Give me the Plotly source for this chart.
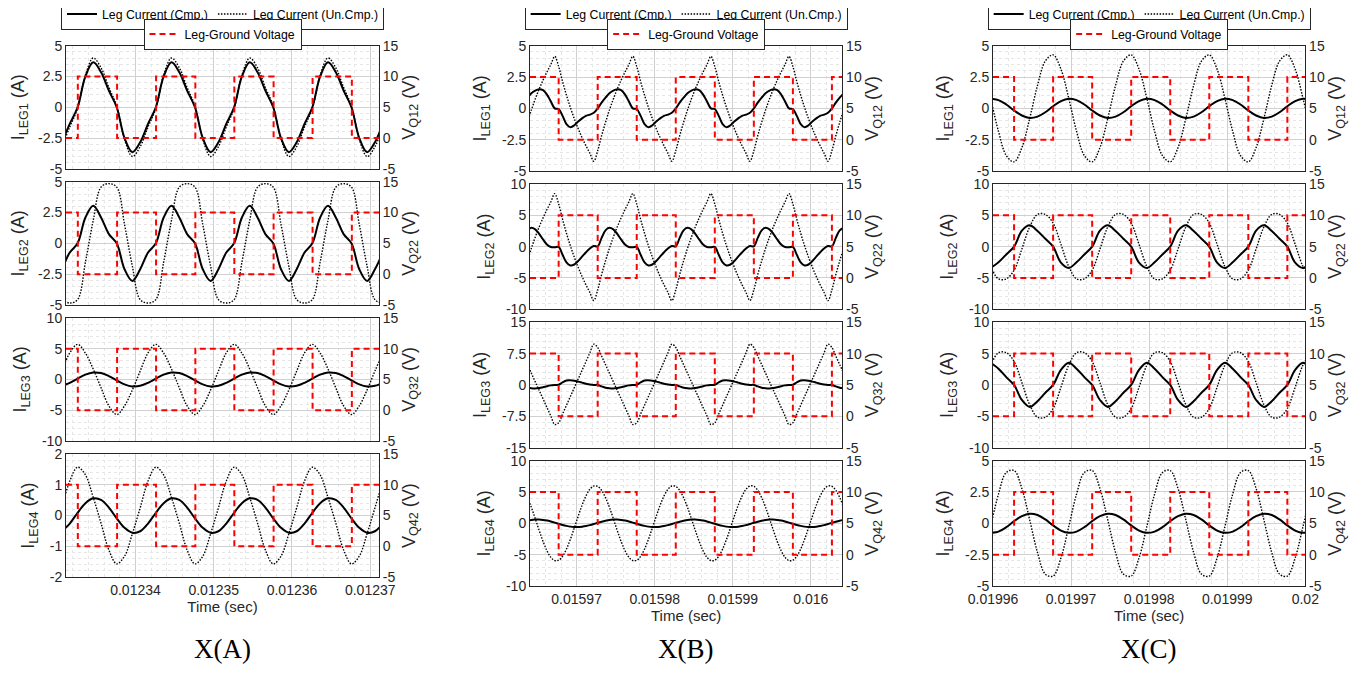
import plotly.graph_objects as go

# ---------------- DATA ----------------
# time bases (s) and sample offsets (microseconds)
A_T0 = 0.01233
B_T0 = 0.01596
C_T0 = 0.01996

A_t_us = [0.6, 1.6, 2.6, 3.6, 4.6, 5.6, 6.6, 7.6, 8.6, 9.6, 10.6, 11.6, 12.6, 13.6, 14.6, 15.6, 16.6, 17.6, 18.6, 19.6,
          20.6, 21.6, 22.6, 23.6, 24.6, 25.6, 26.6, 27.6, 28.6, 29.6, 30.6, 31.6, 32.6, 33.6, 34.6, 35.6, 36.6, 37.6, 38.6,
          39.6, 40.6, 41.6]
B_t_us = [3.7, 4.2, 4.7, 5.2, 5.7, 6.2, 6.7, 7.2, 7.7, 8.2, 8.7, 9.2, 9.7, 10.2, 10.7, 11.2, 11.7, 12.2, 12.7, 13.2,
          13.7, 14.2, 14.7, 15.2, 15.7, 16.2, 16.7, 17.2, 17.7, 18.2, 18.7, 19.2, 19.7, 20.2, 20.7, 21.2, 21.7, 22.2,
          22.7, 23.2, 23.7, 24.2, 24.7, 25.2, 25.7, 26.2, 26.7, 27.2, 27.7, 28.2, 28.7, 29.2, 29.7, 30.2, 30.7, 31.2,
          31.7, 32.2, 32.7, 33.2, 33.7, 34.2, 34.7, 35.2, 35.7, 36.2, 36.7, 37.2, 37.7, 38.2, 38.7, 39.2, 39.7, 40.2,
          40.7, 41.2, 41.7, 42.2, 42.7, 43.2, 43.7, 44.2]
C_t_us = [-0.3, 0.7, 1.7, 2.7, 3.7, 4.7, 5.7, 6.7, 7.7, 8.7, 9.7, 10.7, 11.7, 12.7, 13.7, 14.7, 15.7, 16.7, 17.7, 18.7,
          19.7, 20.7, 21.7, 22.7, 23.7, 24.7, 25.7, 26.7, 27.7, 28.7, 29.7, 30.7, 31.7, 32.7, 33.7, 34.7, 35.7, 36.7,
          37.7, 38.7, 39.7, 40.7]

# ---- column A currents (A) ----
A1_cmp = [-2.85, -1.35,
          0, 2.5, 3.65, 2.85, 1.35, 0, -2.5, -3.65, -2.85, -1.35,
          0, 2.5, 3.65, 2.85, 1.35, 0, -2.5, -3.65, -2.85, -1.35,
          0, 2.5, 3.65, 2.85, 1.35, 0, -2.5, -3.65, -2.85, -1.35,
          0, 2.5, 3.65, 2.85, 1.35, 0, -2.5, -3.65, -2.85, -1.35]
A1_unc = [-3.2, -1.6,
          -0.1, 2.6, 4.0, 3.2, 1.6, 0.1, -2.6, -4.0, -3.2, -1.6,
          -0.1, 2.6, 4.0, 3.2, 1.6, 0.1, -2.6, -4.0, -3.2, -1.6,
          -0.1, 2.6, 4.0, 3.2, 1.6, 0.1, -2.6, -4.0, -3.2, -1.6,
          -0.1, 2.6, 4.0, 3.2, 1.6, 0.1, -2.6, -4.0, -3.2, -1.6]
A2_cmp = [-2.1, -0.75,
          0, 2.1, 3.05, 2.1, 0.75, 0, -2.1, -3.05, -2.1, -0.75,
          0, 2.1, 3.05, 2.1, 0.75, 0, -2.1, -3.05, -2.1, -0.75,
          0, 2.1, 3.05, 2.1, 0.75, 0, -2.1, -3.05, -2.1, -0.75,
          0, 2.1, 3.05, 2.1, 0.75, 0, -2.1, -3.05, -2.1, -0.75]
A2_unc = [-4.57, -4.85,
          -4.57, -1.53, 1.86, 4.57, 4.85, 4.57, 1.53, -1.86, -4.57, -4.85,
          -4.57, -1.53, 1.86, 4.57, 4.85, 4.57, 1.53, -1.86, -4.57, -4.85,
          -4.57, -1.53, 1.86, 4.57, 4.85, 4.57, 1.53, -1.86, -4.57, -4.85,
          -4.57, -1.53, 1.86, 4.57, 4.85, 4.57, 1.53, -1.86, -4.57, -4.85]
A3_cmp = [-1.04, -0.55,
          0.14, 0.79, 1.13, 1.04, 0.55, -0.14, -0.79, -1.13, -1.04, -0.55,
          0.14, 0.79, 1.13, 1.04, 0.55, -0.14, -0.79, -1.13, -1.04, -0.55,
          0.14, 0.79, 1.13, 1.04, 0.55, -0.14, -0.79, -1.13, -1.04, -0.55,
          0.14, 0.79, 1.13, 1.04, 0.55, -0.14, -0.79, -1.13, -1.04, -0.55]
A3_unc = [1.36, 4.3,
          5.7, 4.28, 1.7, -1.36, -4.3, -5.7, -4.28, -1.7, 1.36, 4.3,
          5.7, 4.28, 1.7, -1.36, -4.3, -5.7, -4.28, -1.7, 1.36, 4.3,
          5.7, 4.28, 1.7, -1.36, -4.3, -5.7, -4.28, -1.7, 1.36, 4.3,
          5.7, 4.28, 1.7, -1.36, -4.3, -5.7, -4.28, -1.7, 1.36, 4.3]
A4_cmp = [-0.51, -0.26,
          0.09, 0.40, 0.56, 0.51, 0.26, -0.09, -0.40, -0.56, -0.51, -0.26,
          0.09, 0.40, 0.56, 0.51, 0.26, -0.09, -0.40, -0.56, -0.51, -0.26,
          0.09, 0.40, 0.56, 0.51, 0.26, -0.09, -0.40, -0.56, -0.51, -0.26,
          0.09, 0.40, 0.56, 0.51, 0.26, -0.09, -0.40, -0.56, -0.51, -0.26]
A4_unc = [0.25, 1.12,
          1.57, 1.32, 0.59, -0.25, -1.12, -1.57, -1.32, -0.59, 0.25, 1.12,
          1.57, 1.32, 0.59, -0.25, -1.12, -1.57, -1.32, -0.59, 0.25, 1.12,
          1.57, 1.32, 0.59, -0.25, -1.12, -1.57, -1.32, -0.59, 0.25, 1.12,
          1.57, 1.32, 0.59, -0.25, -1.12, -1.57, -1.32, -0.59, 0.25, 1.12]

# ---- column B currents (A) ----
B1_cmp = [0.85, 1.2, 1.42, 1.52, 1.45, 1.1, 0.55, 0.0, -0.05, -0.6, -1.25, -1.5, -1.35, -1.05, -0.8, -0.6, -0.5, -0.35,
          0.0, 0.45, 0.85, 1.2, 1.42, 1.52, 1.45, 1.1, 0.55, 0.0, -0.05, -0.6, -1.25, -1.5, -1.35, -1.05, -0.8, -0.6, -0.5, -0.35,
          0.0, 0.45, 0.85, 1.2, 1.42, 1.52, 1.45, 1.1, 0.55, 0.0, -0.05, -0.6, -1.25, -1.5, -1.35, -1.05, -0.8, -0.6, -0.5, -0.35,
          0.0, 0.45, 0.85, 1.2, 1.42, 1.52, 1.45, 1.1, 0.55, 0.0, -0.05, -0.6, -1.25, -1.5, -1.35, -1.05, -0.8, -0.6, -0.5, -0.35,
          0.0, 0.45, 0.85, 1.2]
B1_unc = [-1.12, -0.14, 0.74, 1.54, 2.25, 2.90, 3.50, 4.15, 3.34, 2.14, 1.05, 0.07, -0.82, -1.62, -2.34, -2.99, -3.59, -4.22,
          -3.38, -2.19, -1.12, -0.14, 0.74, 1.54, 2.25, 2.90, 3.50, 4.15, 3.34, 2.14, 1.05, 0.07, -0.82, -1.62, -2.34, -2.99, -3.59, -4.22,
          -3.38, -2.19, -1.12, -0.14, 0.74, 1.54, 2.25, 2.90, 3.50, 4.15, 3.34, 2.14, 1.05, 0.07, -0.82, -1.62, -2.34, -2.99, -3.59, -4.22,
          -3.38, -2.19, -1.12, -0.14, 0.74, 1.54, 2.25, 2.90, 3.50, 4.15, 3.34, 2.14, 1.05, 0.07, -0.82, -1.62, -2.34, -2.99, -3.59, -4.22,
          -3.38, -2.19, -1.12, -0.14]
B2_cmp = [2.6, 3.0, 2.75, 2.05, 1.15, 0.35, -0.05, -0.1, -0.05, -1.3, -2.5, -3.0, -2.85, -2.3, -1.6, -0.9, -0.3, 0.1,
          0.05, 1.4, 2.6, 3.0, 2.75, 2.05, 1.15, 0.35, -0.05, -0.1, -0.05, -1.3, -2.5, -3.0, -2.85, -2.3, -1.6, -0.9, -0.3, 0.1,
          0.05, 1.4, 2.6, 3.0, 2.75, 2.05, 1.15, 0.35, -0.05, -0.1, -0.05, -1.3, -2.5, -3.0, -2.85, -2.3, -1.6, -0.9, -0.3, 0.1,
          0.05, 1.4, 2.6, 3.0, 2.75, 2.05, 1.15, 0.35, -0.05, -0.1, -0.05, -1.3, -2.5, -3.0, -2.85, -2.3, -1.6, -0.9, -0.3, 0.1,
          0.05, 1.4, 2.6, 3.0]
B2_unc = [-2.28, -0.29, 1.51, 3.14, 4.59, 5.92, 7.14, 8.47, 6.81, 4.37, 2.14, 0.14, -1.67, -3.30, -4.77, -6.10, -7.32, -8.6,
          -6.9, -4.47, -2.28, -0.29, 1.51, 3.14, 4.59, 5.92, 7.14, 8.47, 6.81, 4.37, 2.14, 0.14, -1.67, -3.30, -4.77, -6.10, -7.32, -8.6,
          -6.9, -4.47, -2.28, -0.29, 1.51, 3.14, 4.59, 5.92, 7.14, 8.47, 6.81, 4.37, 2.14, 0.14, -1.67, -3.30, -4.77, -6.10, -7.32, -8.6,
          -6.9, -4.47, -2.28, -0.29, 1.51, 3.14, 4.59, 5.92, 7.14, 8.47, 6.81, 4.37, 2.14, 0.14, -1.67, -3.30, -4.77, -6.10, -7.32, -8.6,
          -6.9, -4.47, -2.28, -0.29]
B3_cmp = [-0.65, -0.8, -0.85, -0.75, -0.55, -0.3, -0.1, 0.0, 0.05, 0.6, 1.05, 1.1, 1.0, 0.8, 0.55, 0.3, 0.1, 0.0,
          0.0, -0.35, -0.65, -0.8, -0.85, -0.75, -0.55, -0.3, -0.1, 0.0, 0.05, 0.6, 1.05, 1.1, 1.0, 0.8, 0.55, 0.3, 0.1, 0.0,
          0.0, -0.35, -0.65, -0.8, -0.85, -0.75, -0.55, -0.3, -0.1, 0.0, 0.05, 0.6, 1.05, 1.1, 1.0, 0.8, 0.55, 0.3, 0.1, 0.0,
          0.0, -0.35, -0.65, -0.8, -0.85, -0.75, -0.55, -0.3, -0.1, 0.0, 0.05, 0.6, 1.05, 1.1, 1.0, 0.8, 0.55, 0.3, 0.1, 0.0,
          0.0, -0.35, -0.65, -0.8]
B3_unc = [4.87, 2.82, 0.77, -1.28, -3.33, -5.38, -7.43, -9.48, -9.05, -6.95, -4.86, -2.77, -0.68, 1.41, 3.50, 5.59, 7.68, 9.77,
          8.97, 6.92, 4.87, 2.82, 0.77, -1.28, -3.33, -5.38, -7.43, -9.48, -9.05, -6.95, -4.86, -2.77, -0.68, 1.41, 3.50, 5.59, 7.68, 9.77,
          8.97, 6.92, 4.87, 2.82, 0.77, -1.28, -3.33, -5.38, -7.43, -9.48, -9.05, -6.95, -4.86, -2.77, -0.68, 1.41, 3.50, 5.59, 7.68, 9.77,
          8.97, 6.92, 4.87, 2.82, 0.77, -1.28, -3.33, -5.38, -7.43, -9.48, -9.05, -6.95, -4.86, -2.77, -0.68, 1.41, 3.50, 5.59, 7.68, 9.77,
          8.97, 6.92, 4.87, 2.82]
B4_cmp = [0.41, 0.53, 0.59, 0.60, 0.54, 0.44, 0.29, 0.11, -0.08, -0.26, -0.41, -0.53, -0.59, -0.60, -0.54, -0.44, -0.29, -0.11,
          0.08, 0.26, 0.41, 0.53, 0.59, 0.60, 0.54, 0.44, 0.29, 0.11, -0.08, -0.26, -0.41, -0.53, -0.59, -0.60, -0.54, -0.44, -0.29, -0.11,
          0.08, 0.26, 0.41, 0.53, 0.59, 0.60, 0.54, 0.44, 0.29, 0.11, -0.08, -0.26, -0.41, -0.53, -0.59, -0.60, -0.54, -0.44, -0.29, -0.11,
          0.08, 0.26, 0.41, 0.53, 0.59, 0.60, 0.54, 0.44, 0.29, 0.11, -0.08, -0.26, -0.41, -0.53, -0.59, -0.60, -0.54, -0.44, -0.29, -0.11,
          0.08, 0.26, 0.41, 0.53]
B4_unc = [4.10, 2.56, 0.75, -1.12, -2.89, -4.37, -5.43, -5.95, -5.89, -5.26, -4.10, -2.56, -0.75, 1.12, 2.89, 4.37, 5.43, 5.95,
          5.89, 5.26, 4.10, 2.56, 0.75, -1.12, -2.89, -4.37, -5.43, -5.95, -5.89, -5.26, -4.10, -2.56, -0.75, 1.12, 2.89, 4.37, 5.43, 5.95,
          5.89, 5.26, 4.10, 2.56, 0.75, -1.12, -2.89, -4.37, -5.43, -5.95, -5.89, -5.26, -4.10, -2.56, -0.75, 1.12, 2.89, 4.37, 5.43, 5.95,
          5.89, 5.26, 4.10, 2.56, 0.75, -1.12, -2.89, -4.37, -5.43, -5.95, -5.89, -5.26, -4.10, -2.56, -0.75, 1.12, 2.89, 4.37, 5.43, 5.95,
          5.89, 5.26, 4.10, 2.56]

# ---- column C currents (A) ----
C1_cmp = [0.77, 0.66, 0.31,
          -0.17, -0.57, -0.77, -0.66, -0.31, 0.17, 0.58, 0.77, 0.66, 0.31,
          -0.17, -0.57, -0.77, -0.66, -0.31, 0.17, 0.58, 0.77, 0.66, 0.31,
          -0.17, -0.57, -0.77, -0.66, -0.31, 0.17, 0.58, 0.77, 0.66, 0.31,
          -0.17, -0.57, -0.77, -0.66, -0.31, 0.17, 0.58, 0.77, 0.66]
C1_unc = [0.81, -1.83, -3.77,
          -4.27, -3.13, -0.81, 1.83, 3.77, 4.27, 3.13, 0.81, -1.83, -3.77,
          -4.27, -3.13, -0.81, 1.83, 3.77, 4.27, 3.13, 0.81, -1.83, -3.77,
          -4.27, -3.13, -0.81, 1.83, 3.77, 4.27, 3.13, 0.81, -1.83, -3.77,
          -4.27, -3.13, -0.81, 1.83, 3.77, 4.27, 3.13, 0.81, -1.83]
C2_cmp = [-3.4, -2.5, -1.25,
          0, 2.55, 3.4, 2.5, 1.25, 0, -2.55, -3.4, -2.5, -1.25,
          0, 2.55, 3.4, 2.5, 1.25, 0, -2.55, -3.4, -2.5, -1.25,
          0, 2.55, 3.4, 2.5, 1.25, 0, -2.55, -3.4, -2.5, -1.25,
          0, 2.55, 3.4, 2.5, 1.25, 0, -2.55, -3.4, -2.5]
C2_unc = [-3.16, -5.15, -5.15,
          -3.76, -0.37, 3.16, 5.15, 5.15, 3.76, 0.37, -3.16, -5.15, -5.15,
          -3.76, -0.37, 3.16, 5.15, 5.15, 3.76, 0.37, -3.16, -5.15, -5.15,
          -3.76, -0.37, 3.16, 5.15, 5.15, 3.76, 0.37, -3.16, -5.15, -5.15,
          -3.76, -0.37, 3.16, 5.15, 5.15, 3.76, 0.37, -3.16, -5.15]
C3_cmp = [3.55, 2.6, 1.25,
          0, -2.4, -3.5, -2.6, -1.25, 0, 2.4, 3.55, 2.6, 1.25,
          0, -2.4, -3.5, -2.6, -1.25, 0, 2.4, 3.55, 2.6, 1.25,
          0, -2.4, -3.5, -2.6, -1.25, 0, 2.4, 3.55, 2.6, 1.25,
          0, -2.4, -3.5, -2.6, -1.25, 0, 2.4, 3.55, 2.6]
C3_unc = [3.16, 5.15, 5.15,
          3.76, 0.37, -3.16, -5.15, -5.15, -3.76, -0.37, 3.16, 5.15, 5.15,
          3.76, 0.37, -3.16, -5.15, -5.15, -3.76, -0.37, 3.16, 5.15, 5.15,
          3.76, 0.37, -3.16, -5.15, -5.15, -3.76, -0.37, 3.16, 5.15, 5.15,
          3.76, 0.37, -3.16, -5.15, -5.15, -3.76, -0.37, 3.16, 5.15]
C4_cmp = [-0.76, -0.66, -0.31,
          0.17, 0.57, 0.76, 0.66, 0.31, -0.17, -0.58, -0.76, -0.66, -0.31,
          0.17, 0.57, 0.76, 0.66, 0.31, -0.17, -0.58, -0.76, -0.66, -0.31,
          0.17, 0.57, 0.76, 0.66, 0.31, -0.17, -0.58, -0.76, -0.66, -0.31,
          0.17, 0.57, 0.76, 0.66, 0.31, -0.17, -0.58, -0.76, -0.66]
C4_unc = [-0.27, 2.33, 4.05,
          4.21, 2.77, 0.27, -2.33, -4.05, -4.21, -2.77, -0.27, 2.33, 4.05,
          4.21, 2.77, 0.27, -2.33, -4.05, -4.21, -2.77, -0.27, 2.33, 4.05,
          4.21, 2.77, 0.27, -2.33, -4.05, -4.21, -2.77, -0.27, 2.33, 4.05,
          4.21, 2.77, 0.27, -2.33, -4.05, -4.21, -2.77, -0.27, 2.33]

# ---- leg-ground voltages (V): step change times (us) and levels ----
A_v_t_us = [1.12, 2.63, 7.65, 12.63, 17.65, 22.63, 27.65, 32.63, 37.65, 41.12]
A1_v = [0, 10, 0, 10, 0, 10, 0, 10, 0, 0]
A2_v = [10, 0, 10, 0, 10, 0, 10, 0, 10, 10]
A3_v = [10, 0, 10, 0, 10, 0, 10, 0, 10, 10]
A4_v = [10, 0, 10, 0, 10, 0, 10, 0, 10, 10]
B_v_t_us = [4.03, 7.7, 12.7, 17.7, 22.7, 27.7, 32.7, 37.7, 42.7, 44.03]
B1_v = [10, 0, 10, 0, 10, 0, 10, 0, 10, 10]
B2_v = [0, 10, 0, 10, 0, 10, 0, 10, 0, 0]
B3_v = [10, 0, 10, 0, 10, 0, 10, 0, 10, 10]
B4_v = [10, 0, 10, 0, 10, 0, 10, 0, 10, 10]
C_v_t_us = [0, 2.7, 7.7, 12.7, 17.7, 22.7, 27.7, 32.7, 37.7, 40]
C1_v = [10, 0, 10, 0, 10, 0, 10, 0, 10, 10]
C2_v = [10, 0, 10, 0, 10, 0, 10, 0, 10, 10]
C3_v = [0, 10, 0, 10, 0, 10, 0, 10, 0, 0]
C4_v = [0, 10, 0, 10, 0, 10, 0, 10, 0, 0]

# axis ticks
A_xticks = [0.01234, 0.01235, 0.01236, 0.01237]
A_xtext = ["0.01234", "0.01235", "0.01236", "0.01237"]
B_xticks = [0.01597, 0.01598, 0.01599, 0.016]
B_xtext = ["0.01597", "0.01598", "0.01599", "0.016"]
C_xticks = [0.01996, 0.01997, 0.01998, 0.01999, 0.02]
C_xtext = ["0.01996", "0.01997", "0.01998", "0.01999", "0.02"]
A_yticks = [[-5, -2.5, 0, 2.5, 5], [-5, -2.5, 0, 2.5, 5], [-10, -5, 0, 5, 10], [-2, -1, 0, 1, 2]]
B_yticks = [[-5, -2.5, 0, 2.5, 5], [-10, -5, 0, 5, 10], [-15, -7.5, 0, 7.5, 15], [-10, -5, 0, 5, 10]]
C_yticks = [[-5, -2.5, 0, 2.5, 5], [-10, -5, 0, 5, 10], [-10, -5, 0, 5, 10], [-5, -2.5, 0, 2.5, 5]]
V_ticks = [-5, 0, 5, 10, 15]
COL_LABELS = ["X(A)", "X(B)", "X(C)"]

# ---------------- FIGURE ----------------
W, H = 1368, 673
def fx(px):
    return px / W
def fy(py):
    return 1 - py / H

def fmt(v):
    return "%g" % v

cols = [
    dict(T0=A_T0, t=A_t_us, vt=A_v_t_us, xr=(1.12, 41.12), xt=A_xticks, xtx=A_xtext, yt=A_yticks,
         cur=[(A1_cmp, A1_unc, A1_v), (A2_cmp, A2_unc, A2_v), (A3_cmp, A3_unc, A3_v), (A4_cmp, A4_unc, A4_v)],
         px=(58, 371), rows=[(37.7, 160.8), (173.8, 296.9), (309.9, 433), (446, 569.1)]),
    dict(T0=B_T0, t=B_t_us, vt=B_v_t_us, xr=(4.03, 44.03), xt=B_xticks, xtx=B_xtext, yt=B_yticks,
         cur=[(B1_cmp, B1_unc, B1_v), (B2_cmp, B2_unc, B2_v), (B3_cmp, B3_unc, B3_v), (B4_cmp, B4_unc, B4_v)],
         px=(522, 834.3), rows=[(37.7, 163), (176, 301.3), (314.3, 439.6), (452.6, 578)]),
    dict(T0=C_T0, t=C_t_us, vt=C_v_t_us, xr=(0.0, 40.0), xt=C_xticks, xtx=C_xtext, yt=C_yticks,
         cur=[(C1_cmp, C1_unc, C1_v), (C2_cmp, C2_unc, C2_v), (C3_cmp, C3_unc, C3_v), (C4_cmp, C4_unc, C4_v)],
         px=(985, 1297.3), rows=[(37.7, 163), (176, 301.3), (314.3, 439.6), (452.6, 578)]),
]

AXC = '#262626'
GRID = '#d0d0d0'
MINOR = '#e6e6e6'
TICKF = dict(size=14, color=AXC)
TITLEF = dict(size=18, color=AXC)

fig = go.Figure()
layout = dict(width=W, height=H, margin=dict(l=0, r=0, t=0, b=0, autoexpand=False),
              paper_bgcolor='white', plot_bgcolor='white',
              font=dict(family='Liberation Sans, Arial, sans-serif', size=14, color=AXC), annotations=[])

for ci, c in enumerate(cols):
    T0 = c['T0']
    tx = [T0 + u * 1e-6 for u in c['t']]
    vx = [T0 + u * 1e-6 for u in c['vt']]
    leg1 = 'legend' if ci == 0 else 'legend%d' % (2 * ci + 1)
    leg2 = 'legend%d' % (2 * ci + 2)
    for r in range(4):
        p = ci * 4 + r
        xa = 'x%d' % (p + 1)
        ya = 'y%d' % (2 * p + 1)
        yb = 'y%d' % (2 * p + 2)
        cmp_, unc, vv = c['cur'][r]
        fig.add_trace(go.Scatter(x=tx, y=unc, xaxis=xa, yaxis=ya, mode='lines', name='Leg Current (Un.Cmp.)',
                                 line=dict(color='black', width=1.4, dash='1.5px,1.5px', shape='spline', smoothing=1),
                                 legend=leg1, showlegend=(r == 0), legendrank=2))
        fig.add_trace(go.Scatter(x=tx, y=cmp_, xaxis=xa, yaxis=ya, mode='lines', name='Leg Current (Cmp.)',
                                 line=dict(color='black', width=2, shape='spline', smoothing=1),
                                 legend=leg1, showlegend=(r == 0), legendrank=1))
        fig.add_trace(go.Scatter(x=vx, y=vv, xaxis=xa, yaxis=yb, mode='lines', name='Leg-Ground Voltage',
                                 line=dict(color='#ff0000', width=2, dash='6px,4px', shape='hv'),
                                 legend=leg2, showlegend=(r == 0)))
        top, bot = c['rows'][r]
        yt = c['yt'][r]
        ystep = yt[1] - yt[0]
        xkey = 'xaxis' if p == 0 else 'xaxis%d' % (p + 1)
        ykey = 'yaxis' if p == 0 else 'yaxis%d' % (2 * p + 1)
        ykey2 = 'yaxis%d' % (2 * p + 2)
        layout[xkey] = dict(domain=[fx(c['px'][0]), fx(c['px'][1])], anchor=ya, automargin=False,
                            range=[T0 + c['xr'][0] * 1e-6, T0 + c['xr'][1] * 1e-6],
                            tickmode='array', tickvals=c['xt'], ticktext=c['xtx'], showticklabels=(r == 3),
                            tickfont=TICKF, ticks='', showgrid=True, gridcolor=GRID, gridwidth=1,
                            minor=dict(tickmode='linear', tick0=c['xt'][0], dtick=2e-6, showgrid=True,
                                       gridcolor=MINOR, griddash='dot', ticks=''),
                            showline=True, linecolor=AXC, linewidth=1, mirror=True, zeroline=False)
        if r == 3:
            layout[xkey]['title'] = dict(text='Time (sec)', font=dict(size=15, color=AXC), standoff=4)
        layout[ykey] = dict(domain=[fy(bot), fy(top)], anchor=xa, range=[yt[0], yt[-1]], automargin=False,
                            tickmode='array', tickvals=yt, ticktext=[fmt(v) for v in yt], tickfont=TICKF,
                            ticks='', showgrid=True, gridcolor=GRID, gridwidth=1,
                            minor=dict(tickmode='linear', tick0=yt[0], dtick=ystep / 5, showgrid=True,
                                       gridcolor=MINOR, griddash='dot', ticks=''),
                            showline=True, linecolor=AXC, linewidth=1, zeroline=False,
                            title=dict(text='I<sub>LEG%d</sub> (A)' % (r + 1), font=TITLEF, standoff=10))
        layout[ykey2] = dict(domain=[fy(bot), fy(top)], anchor=xa, overlaying=ya, side='right', automargin=False,
                             range=[-5, 15], tickmode='array', tickvals=V_ticks, ticktext=[str(v) for v in V_ticks],
                             tickfont=TICKF, ticks='', showgrid=False, showline=True, linecolor=AXC, linewidth=1,
                             zeroline=False,
                             title=dict(text='V<sub>Q%d2</sub> (V)' % (r + 1), font=TITLEF, standoff=3))
    cx = fx((c['px'][0] + c['px'][1]) / 2)
    legstyle = dict(orientation='h', xanchor='center', yanchor='top', bgcolor='white', bordercolor=AXC,
                    borderwidth=1, font=dict(size=12.3, color='black'), itemwidth=30, tracegroupgap=0)
    layout[leg1] = dict(x=cx, y=fy(-9.5), **legstyle)
    layout[leg2] = dict(x=cx, y=fy(10.5), **legstyle)
    layout['annotations'].append(dict(text=COL_LABELS[ci], x=cx, y=fy(641), xref='paper', yref='paper',
                                      xanchor='center', yanchor='middle', showarrow=False,
                                      font=dict(family='Liberation Serif, Times New Roman, serif',
                                                size=27, color='black')))

fig.update_layout(**layout)
fig.write_html("out.html")
